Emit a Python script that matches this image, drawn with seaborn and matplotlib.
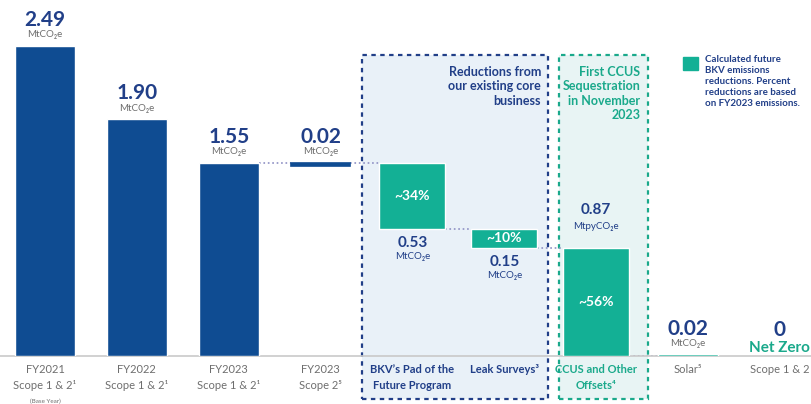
import matplotlib.pyplot as plt
import seaborn as sns
import pandas as pd
from matplotlib.patches import Rectangle

# Données
categories = ["FY2021", "FY2022", "FY2023", "FY2023 S2", "Pad", "Leak",
              "CCUS", "Solar", "Net Zero"]
tick_labels = ["FY2021\nScope 1 & 2¹", "FY2022\nScope 1 & 2¹",
               "FY2023\nScope 1 & 2¹", "FY2023\nScope 2⁵",
               "BKV’s Pad of the\nFuture Program", "Leak Surveys³",
               "CCUS and Other\nOffsets⁴", "Solar⁵", "Scope 1 & 2"]
history = [2.49, 1.90, 1.55]
scope2 = 0.02
reductions = [0.53, 0.15, 0.87]
reduction_pct = ["~34%", "~10%", "~56%"]
solar = 0.02
net_zero = 0

NAVY = "#0f4c92"
TEXT_NAVY = "#213f88"
TEAL = "#13b095"
GREEN_TXT = "#1aa98b"
GREY = "#6e6e6e"
DOT = "#8e90c4"

sns.set_theme(style="white")
plt.rcParams["font.family"] = ["Lato", "DejaVu Sans"]

fig = plt.figure(figsize=(8.12, 4.04), dpi=100)
ax = fig.add_axes([0, 48 / 404, 1, 356 / 404])

# Barres historiques
hist_df = pd.DataFrame({"cat": categories[:3], "val": history})
sns.barplot(data=hist_df, x="cat", y="val", order=categories, color=NAVY,
            saturation=1, width=0.65, ax=ax, zorder=3)

# Cascade des réductions
start = history[-1]
ax.bar(3, scope2, bottom=start - scope2, width=0.65, color=NAVY,
       edgecolor=NAVY, lw=1.2, zorder=3)
bottoms = []
level = start
for i, r in enumerate(reductions):
    level = level - r
    bottoms.append(level)
    ax.bar(4 + i, r, bottom=level, width=0.72, color=TEAL, zorder=3)
ax.bar(7, solar, bottom=0, width=0.65, color=TEAL, zorder=3)

# Lignes pointillées de liaison
hw = 0.65 / 2
links = [(2 + hw, 3 - hw, start), (3 + hw, 4 - 0.36, start),
         (4 + 0.36, 5 - 0.36, bottoms[0]), (5 + 0.36, 6 - 0.36, bottoms[1]),
         (6 + 0.36, 7 - hw, bottoms[2])]
for x0, x1, y in links:
    ax.plot([x0, x1], [y, y], ls=":", color=DOT, lw=1.2, zorder=2)

# Cadres
xt = ax.get_xaxis_transform()
ax.add_patch(Rectangle((3.45, -0.12), 2.03, 0.965, transform=xt, clip_on=False,
                       facecolor="#e9f1f8", edgecolor=TEXT_NAVY, ls=(0, (2, 2)),
                       lw=1.6, zorder=0))
ax.add_patch(Rectangle((5.6, -0.12), 0.96, 0.965, transform=xt, clip_on=False,
                       facecolor="#e8f4f4", edgecolor=GREEN_TXT, ls=(0, (2, 2)),
                       lw=1.6, zorder=0))


def value_label(x, y, num, unit, up=True, off=0):
    s = 1 if up else -1
    ax.annotate(num, (x, y), xytext=(0, s * (19 + off)), textcoords="offset points",
                ha="center", va="center", fontsize=15, fontweight="bold",
                color=TEXT_NAVY, zorder=5)
    ax.annotate(unit, (x, y), xytext=(0, s * (8 + off)), textcoords="offset points",
                ha="center", va="center", fontsize=7, color=GREY, zorder=5)


for i, v in enumerate(history):
    value_label(i, v, f"{v:.2f}", "MtCO₂e")
value_label(3, start, f"{scope2:.2f}", "MtCO₂e")

for i, (r, b, p) in enumerate(zip(reductions, bottoms, reduction_pct)):
    ax.text(4 + i, b + r / 2, p, ha="center", va="center", color="white",
            fontsize=10, fontweight="bold", zorder=5)
for i in range(2):
    ax.annotate(f"{reductions[i]:.2f}", (4 + i, bottoms[i]), xytext=(0, -10),
                textcoords="offset points", ha="center", va="center",
                fontsize=11, fontweight="bold", color=TEXT_NAVY)
    ax.annotate("MtCO₂e", (4 + i, bottoms[i]), xytext=(0, -20),
                textcoords="offset points", ha="center", va="center",
                fontsize=7, color=TEXT_NAVY)
ax.annotate(f"{reductions[2]:.2f}", (6, start - reductions[0] - reductions[1]),
            xytext=(0, 27), textcoords="offset points", ha="center", va="center",
            fontsize=11, fontweight="bold", color=TEXT_NAVY)
ax.annotate("MtpyCO₂e", (6, start - reductions[0] - reductions[1]),
            xytext=(0, 15), textcoords="offset points", ha="center", va="center",
            fontsize=7, color=TEXT_NAVY)

value_label(7, solar, f"{solar:.2f}", "MtCO₂e", off=-1)
ax.annotate(f"{net_zero}", (8, 0), xytext=(0, 19), textcoords="offset points",
            ha="center", va="center", fontsize=15, fontweight="bold",
            color=TEXT_NAVY)
ax.annotate("Net Zero", (8, 0), xytext=(0, 6), textcoords="offset points",
            ha="center", va="center", fontsize=11, fontweight="bold",
            color=GREEN_TXT)

# Titres des cadres
ax.text(5.40, 0.815, "Reductions from\nour existing core\nbusiness", transform=xt,
        ha="right", va="top", fontsize=9, fontweight="bold", color=TEXT_NAVY,
        linespacing=1.25)
ax.text(6.48, 0.815, "First CCUS\nSequestration\nin November\n2023", transform=xt,
        ha="right", va="top", fontsize=9, fontweight="bold", color=GREEN_TXT,
        linespacing=1.25)

# Légende
fig.patches.append(Rectangle((683 / 812, 1 - 70 / 404), 15 / 812, 13 / 404,
                             transform=fig.transFigure, color=TEAL))
fig.text(705 / 812, 1 - 55 / 404,
         "Calculated future\nBKV emissions\nreductions. Percent\nreductions are based\non FY2023 emissions.",
         ha="left", va="top", fontsize=7, fontweight="bold", color=TEXT_NAVY,
         linespacing=1.3)

# Axes
ax.set_xlim(-0.49, 8.35)
ax.set_ylim(0, 2.86)
ax.set_yticks([])
ax.set_xlabel("")
ax.set_ylabel("")
ax.set_xticks(range(len(categories)))
ax.set_xticklabels(tick_labels, fontsize=8, linespacing=1.5)
ax.tick_params(axis="x", length=0, pad=6)
tick_colors = [GREY] * 4 + [TEXT_NAVY] * 2 + [GREEN_TXT] + [GREY] * 2
for lab, c in zip(ax.get_xticklabels(), tick_colors):
    lab.set_color(c)
    if c != GREY:
        lab.set_fontweight("bold")
ax.annotate("(Base Year)", (0, 0), xytext=(0, -33), textcoords="offset points",
            ha="center", va="center", fontsize=4.5, color=GREY,
            annotation_clip=False)
for side in ["top", "left", "right"]:
    ax.spines[side].set_visible(False)
ax.spines["bottom"].set_color("#c9c9c9")
ax.spines["bottom"].set_linewidth(1.2)
ax.set_facecolor("none")

fig.savefig("out.png", dpi=100)
